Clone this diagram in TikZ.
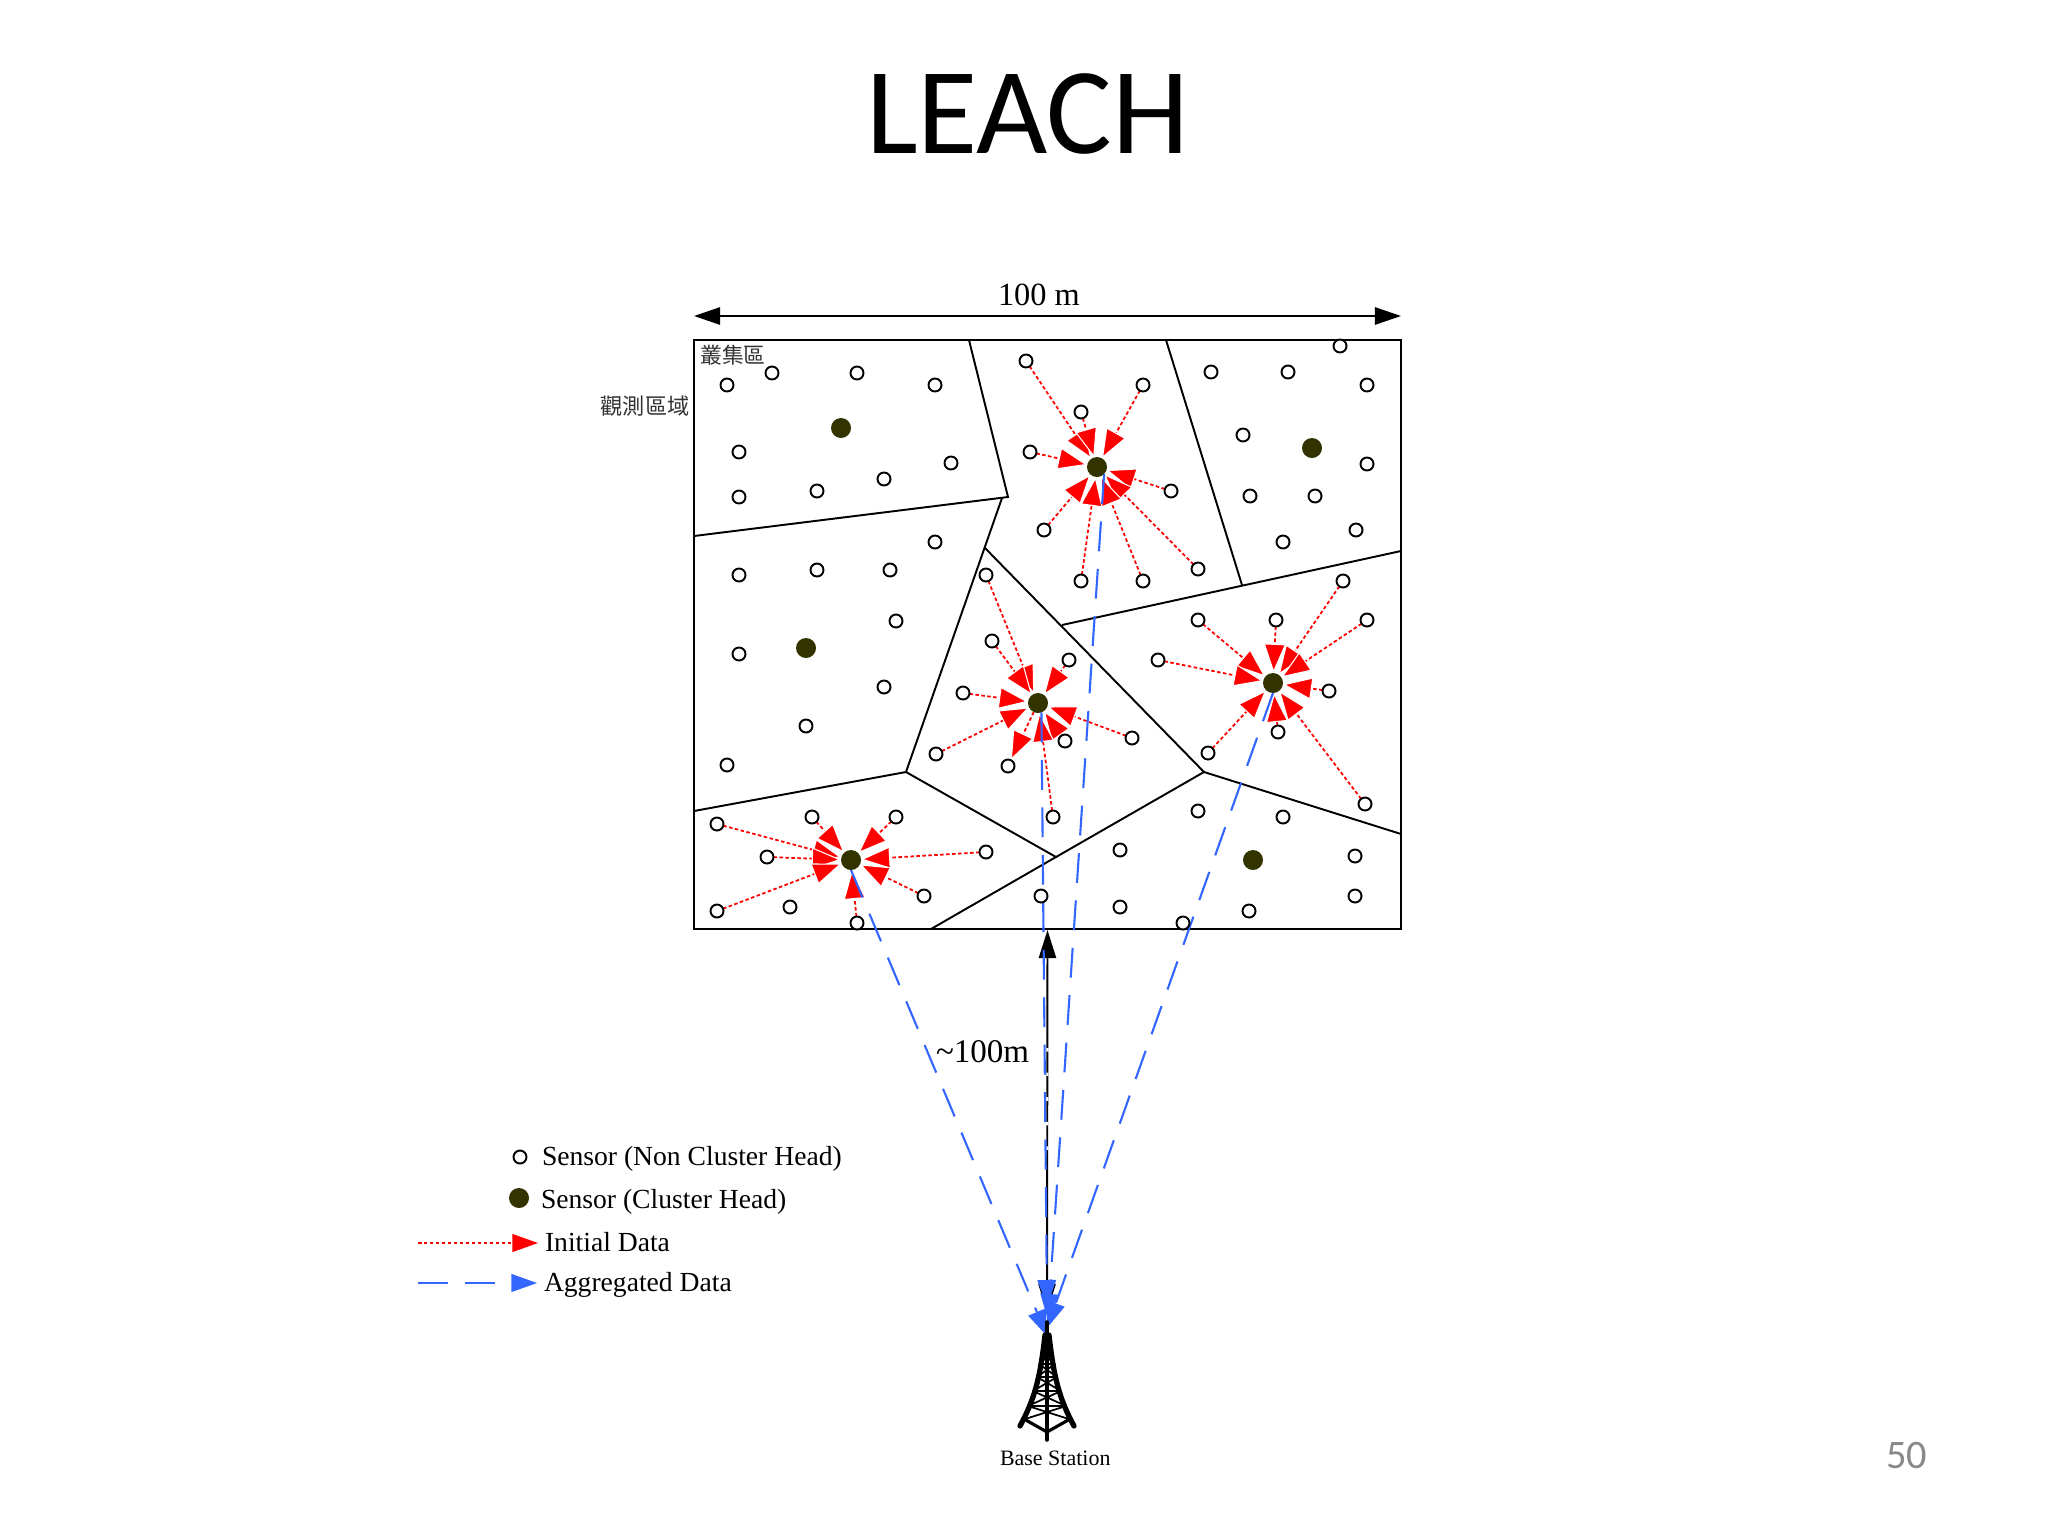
\documentclass[tikz,border=0pt]{standalone}
\usepackage{fontspec}
\usepackage{tikz}
\usetikzlibrary{arrows.meta, backgrounds}
\setmainfont{Liberation Serif}
\newfontfamily\titlefont{Carlito}
\newfontfamily\cjkfont{Noto Sans CJK TC}
\definecolor{headolive}{RGB}{51,51,0}
\definecolor{initred}{RGB}{255,0,0}
\definecolor{aggblue}{RGB}{51,102,255}
\definecolor{pagegray}{RGB}{137,137,137}
\tikzset{
    sensor/.style={circle, draw=black, fill=white, line width=0.55pt, minimum size=0.13cm, inner sep=0pt, outer sep=0pt},
    clusterhead/.style={circle, fill=headolive, minimum size=0.2cm, inner sep=0pt, outer sep=0pt},
    label/.style={anchor=base west, inner sep=0pt, outer sep=0pt},
    cell/.style={line width=0.55pt, line join=miter},
    initialdata/.style={initred, line width=0.5pt, dash pattern=on 1pt off 0.7pt,
        -{Triangle[length=8.3pt, width=6.3pt, color=white, fill=initred, line width=0.3pt, sep=0pt]}},
    aggdata/.style={aggblue, line width=0.6pt, dash pattern=on 8.5pt off 5pt,
        -{Triangle[length=7.4pt, width=5.4pt, color=aggblue, fill=aggblue, line width=0pt]}},
    dimline/.style={black, line width=0.55pt, {Triangle[length=7.4pt, width=4.9pt]}-{Triangle[length=7.4pt, width=4.9pt]}},
    towerline/.style={black, line width=0.5pt},
    towerleg/.style={black, line width=1.5pt, line cap=round}
}

\begin{document}
\begin{tikzpicture}[x=0.01cm, y=-0.01cm]
    \useasboundingbox (0,0) rectangle (2048,1536);

    % Title and page number
    \node[label, font=\titlefont\fontsize{35pt}{37pt}\selectfont] (title) at (866,153) {LEACH};
    \node[label, font=\titlefont\fontsize{11.5pt}{14pt}\selectfont, text=pagegray] (pageno) at (1886,1468) {50};

    % Sensors without a route
    \foreach \x/\y/\n in {727/385/p1, 772/373/p2, 857/373/p3, 935/385/p4, 739/452/p5, 739/497/p6, 817/491/p7, 884/479/p8, 951/463/p9,
        935/542/q1, 739/575/q2, 817/570/q3, 890/570/q4, 896/621/q5, 739/654/q6, 727/765/q7, 806/726/q8, 884/687/q9,
        1211/372/r1, 1288/372/r2, 1340/346/r3, 1367/385/r4, 1243/435/r5, 1367/464/r6, 1250/496/r7, 1315/496/r8, 1356/530/r9, 1283/542/r10,
        1198/811/t1, 1283/817/t2, 1120/850/t3, 1355/856/t4, 1355/896/t5, 1249/911/t6, 1120/907/t7, 1041/896/t8, 1183/923/t9,
        790/907/u0} {
        \node[sensor] (\n) at (\x,\y) {};
    }

    % Cluster heads
    \foreach \x/\y/\n in {841/428/headA, 806/648/headB, 1312/448/headC, 1253/860/headD, 1097/467/headE, 1273/683/headF, 1038/703/headG, 851/860/headH} {
        \node[clusterhead] (\n) at (\x,\y) {};
    }

    % Sensors with a route
    \foreach \x/\y/\n in {1026/361/e1, 1143/385/e2, 1081/412/e3, 1030/452/e4, 1171/491/e5, 1044/530/e6, 1198/569/e7, 1081/581/e8, 1143/581/e9} {
        \node[sensor] (\n) at (\x,\y) {};
    }
    \foreach \x/\y/\n in {1343/581/f1, 1367/620/f2, 1198/620/f3, 1276/620/f4, 1158/660/f5, 1329/691/f6, 1208/753/f7, 1278/732/f8, 1365/804/f9} {
        \node[sensor] (\n) at (\x,\y) {};
    }
    \foreach \x/\y/\n in {986/575/g1, 992/641/g2, 1069/660/g3, 963/693/g4, 1065/741/g5, 1132/738/g6, 936/754/g7, 1008/766/g8, 1053/817/g9} {
        \node[sensor] (\n) at (\x,\y) {};
    }
    \foreach \x/\y/\n in {717/824/h1, 812/817/h2, 896/817/h3, 767/857/h4, 986/852/h5, 924/896/h6, 717/911/h7, 857/923/h8} {
        \node[sensor] (\n) at (\x,\y) {};
    }

    % Field labels
    \node[label, font=\fontsize{9.2pt}{11pt}\selectfont] (width) at (998,305) {100 m};
    \node[label, font=\fontsize{9.4pt}{11pt}\selectfont] (range) at (936,1062) {\textasciitilde100m};
    \node[anchor=center, inner sep=0pt, font=\cjkfont\fontsize{6.2pt}{7pt}\selectfont, text=black!80] (cluster) at (733,355) {叢集區};
    \node[anchor=center, inner sep=0pt, font=\cjkfont\fontsize{6.3pt}{7pt}\selectfont, text=black!80] (field) at (645,406) {觀測區域};
    \node[label, font=\fontsize{6.25pt}{7pt}\selectfont] (station) at (1000,1465) {Base Station};

    % Legend
    \node[sensor] (keySensor) at (520,1157) {};
    \node[clusterhead] (keyHead) at (519,1198) {};
    \node[label, font=\fontsize{7.85pt}{9pt}\selectfont] (keySensorText) at (542,1165) {Sensor (Non Cluster Head)};
    \node[label, font=\fontsize{7.85pt}{9pt}\selectfont] (keyHeadText) at (541,1208) {Sensor (Cluster Head)};
    \node[label, font=\fontsize{7.85pt}{9pt}\selectfont] (keyInitText) at (545,1251) {Initial Data};
    \node[label, font=\fontsize{7.85pt}{9pt}\selectfont] (keyAggText) at (544,1291) {Aggregated Data};
    \coordinate (keyInitA) at (418,1243);
    \coordinate (keyInitB) at (538,1243);
    \coordinate (keyAggA) at (418,1283);
    \coordinate (keyAggB) at (537,1283);

    % Ends of the long routes
    \coordinate (dimL) at (694,316);
    \coordinate (dimR) at (1401,316);
    \coordinate (rangeTop) at (1047.5,930);
    \coordinate (rangeEnd) at (1047,1312);
    \coordinate (tipH) at (1047,1336);
    \coordinate (tipG) at (1047,1306);
    \coordinate (tipE) at (1048,1320);
    \coordinate (tipF) at (1047,1328);

    \begin{scope}[on background layer]
        \fill[white] (0,0) rectangle (2048,1536);

        % Field and cells
        \draw[cell] (694,340) rectangle (1401,929);
        \draw[cell] (969,340) -- (1008,497) -- (694,536);
        \draw[cell] (1002,498) -- (906,772) -- (694,811);
        \draw[cell] (906,772) -- (1056,857) -- (931,929);
        \draw[cell] (985,548) -- (1204,772) -- (1056,857);
        \draw[cell] (1204,772) -- (1401,834);
        \draw[cell] (1062,625) -- (1401,551);
        \draw[cell] (1166,340) -- (1242,585);

        % Initial data
        \foreach \n in {e1,e2,e3,e4,e5,e6,e7,e8,e9} \draw[initialdata] (\n) -- (headE);
        \foreach \n in {f1,f2,f3,f4,f5,f6,f7,f8,f9} \draw[initialdata] (\n) -- (headF);
        \foreach \n in {g1,g2,g3,g4,g5,g6,g7,g9} \draw[initialdata] (\n) -- (headG);
        \draw[initialdata] (headG) -- (g8);
        \foreach \n in {h1,h2,h3,h4,h5,h6,h7,h8} \draw[initialdata] (\n) -- (headH);

        % Distance to the base station
        \draw[dimline] (dimL) -- (dimR);
        \draw[dimline, {Triangle[length=8pt, width=4.9pt]}-{Triangle[length=8pt, width=4.9pt]}] (rangeTop) -- (rangeEnd);
        \draw[white, line width=0.6pt, dash pattern=on 1pt off 6pt] (1047.5,1048) -- (1047,1165);

        % Aggregated data
        \draw[aggdata] (headH.south) -- (tipH);
        \draw[aggdata] (headG.-70) -- (tipG);
        \draw[aggdata] (headE.-45) -- (tipE);
        \draw[aggdata] (headF.south) -- (tipF);

        % Legend lines
        \draw[initialdata, -{Triangle[length=7.3pt, width=5.2pt, fill=initred, color=initred, line width=0pt]}] (keyInitA) -- (keyInitB);
        \draw[aggdata, -{Triangle[length=7.3pt, width=5.2pt, fill=aggblue, color=aggblue, line width=0pt]}] (keyAggA) -- (keyAggB);
    \end{scope}

    % Tower
    \draw[towerleg, line width=1pt] (1047,1322) -- (1047,1440);
    \draw[towerleg] (1045,1335) .. controls (1040,1380) and (1034,1400) .. (1020,1426);
    \draw[towerleg] (1049,1335) .. controls (1054,1380) and (1060,1400) .. (1074,1426);
    \draw[towerline, line width=0.9pt] (1024,1419) -- (1047,1432) -- (1070,1419);
    \foreach \ya/\da/\yb/\db in {1352/6/1364/8, 1364/8/1377/10, 1377/10/1391/14, 1391/14/1406/19, 1406/19/1420/25} {
        \draw[towerline] (1047-\da,\ya) -- (1047+\db,\yb) (1047+\da,\ya) -- (1047-\db,\yb) (1047-\da,\ya) -- (1047+\da,\ya);
    }
\end{tikzpicture}
\end{document}
